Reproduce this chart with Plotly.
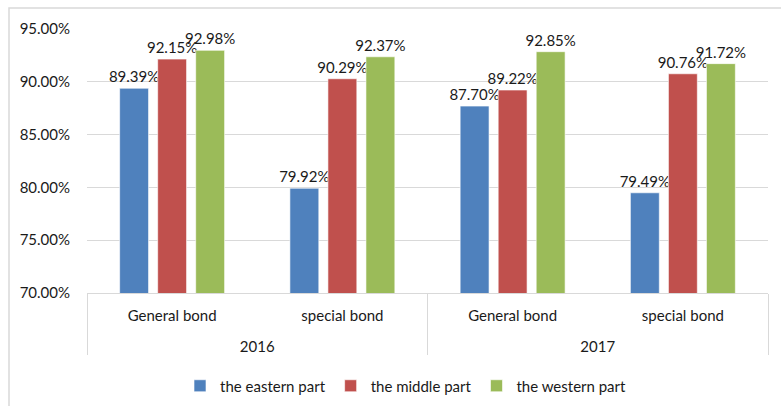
import plotly.graph_objects as go

years = ["2016", "2016", "2017", "2017"]
bond_types = ["General bond", "special bond", "General bond", "special bond"]
series_names = ["the eastern part", "the middle part", "the western part"]
eastern = [0.8939, 0.7992, 0.8770, 0.7949]
middle = [0.9215, 0.9029, 0.8922, 0.9076]
western = [0.9298, 0.9237, 0.9285, 0.9172]
colors = ["#4F81BD", "#C0504D", "#9BBB59"]
y_ticks = [0.70, 0.75, 0.80, 0.85, 0.90, 0.95]

FONT = "Lato, Open Sans, sans-serif"
FS = 15

# extra blank line under each bond label to widen the gap to the year row
bond_labels = [b + "<br> " for b in bond_types]

fig = go.Figure()
for name, vals, col in zip(series_names, [eastern, middle, western], colors):
    fig.add_trace(go.Bar(
        x=[years, bond_labels], y=vals, name=name,
        marker=dict(color=col, line=dict(color="rgba(255,255,255,0.6)", width=1)),
        text=[f"{v*100:.2f}%" for v in vals],
        textposition="outside", cliponaxis=False, constraintext="none",
        textfont=dict(size=FS, color="#1a1a1a", family=FONT),
    ))

W, H = 781, 406
L, R, T, B = 87, 13, 29, 113
pw, ph = W - L - R, H - T - B

def px_x(p):
    return (p - L) / pw

def px_y(p):
    return (H - B - p) / ph

fig.update_layout(
    width=W, height=H,
    margin=dict(l=L, r=R, t=T, b=B, pad=0, autoexpand=False),
    barmode="group", bargap=0.33, bargroupgap=0.24,
    plot_bgcolor="white", paper_bgcolor="white",
    font=dict(family=FONT, size=FS, color="#1a1a1a"),
    showlegend=True,
    legend=dict(orientation="h", xref="container", yref="container",
                x=180 / W, xanchor="left", y=(H - 386) / H, yanchor="middle",
                font=dict(size=FS, family=FONT), traceorder="normal",
                itemwidth=30),
    xaxis=dict(type="multicategory", showline=True, linecolor="#d9d9d9", linewidth=1,
               showdividers=True, dividercolor="#d9d9d9", dividerwidth=1,
               tickfont=dict(size=FS, family=FONT), ticks="", ticklabelstandoff=9,
               automargin=False),
    yaxis=dict(range=[0.70, 0.95], tickvals=y_ticks, tickformat=".2%",
               showgrid=True, gridcolor="#d9d9d9", gridwidth=1, zeroline=False,
               showline=False, ticklabelstandoff=16, automargin=False,
               tickfont=dict(size=FS, family=FONT)),
    shapes=[dict(type="rect", xref="paper", yref="paper",
                 x0=px_x(9), x1=px_x(800), y0=px_y(430), y1=px_y(8),
                 line=dict(color="#d9d9d9", width=1.5), layer="below")],
)

fig.write_html("out.html")
